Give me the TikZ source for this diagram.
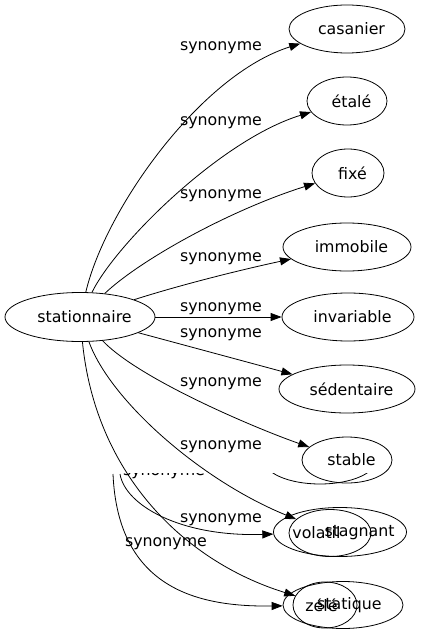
\documentclass[tikz,border=0pt]{standalone}
\usepackage{fontspec}
\setmainfont{DejaVu Sans}
\usetikzlibrary{
    arrows.meta,
    shapes.geometric
}
\tikzset{
    word/.style={ellipse, draw, inner sep=0pt, minimum height=48bp},
    wtext/.style={label={[xshift=4.5bp]center:#1}},
    syn/.style={-{Triangle[length=11bp,width=8bp]}},
    rel/.style={inner sep=0pt}
}

\begin{document}
\begin{tikzpicture}[x=1bp, y=-1bp, line width=0.8bp,
    font=\fontsize{15.8bp}{19bp}\selectfont]
    % Page frame
    \fill[white] (0,0) rectangle (421,635);
    \useasboundingbox (0,0) rectangle (421,635);

    % Draw the word nodes
    \node[word, minimum width=150bp, minimum height=49bp, wtext=stationnaire] (st) at (80,317) {};
    \node[word, minimum width=116bp, wtext=casanier] (casanier) at (347,29) {};
    \node[word, minimum width=80bp, wtext=étalé] (etale) at (347,101) {};
    \node[word, minimum width=72bp, wtext=fixé] (fixe) at (348,173) {};
    \node[word, minimum width=128bp, wtext=immobile] (immobile) at (347,247) {};
    \node[word, minimum width=132bp, wtext=invariable] (invariable) at (348,317) {};
    \node[word, minimum width=136bp, wtext=sédentaire] (sedentaire) at (347,389) {};
    \node[word, minimum width=90bp, minimum height=46bp, wtext=stable] (stable) at (347,460) {};

    % Overlapping nodes at the bottom
    \node[word, minimum width=133bp, minimum height=49bp] (stagnant) at (340,532) {};
    \node[word, minimum width=82bp, minimum height=47bp] (vol) at (330,533) {};
    \node[rel, anchor=east] (tstag) at (395,533) {stagnant};
    \node[rel, anchor=west] (tvol) at (292,533) {volatil};
    \node[word, minimum width=120bp, minimum height=47bp] (statique) at (343,605) {};
    \node[word, minimum width=64bp, minimum height=46bp] (zele) at (325,605) {};
    \node[rel, anchor=east] (tstat) at (382,605) {statique};
    \node[rel, anchor=west] (tzele) at (305,605) {zélé};

    % Cut off part of the hidden layer
    \begin{scope}
        \clip (0,473.5) rectangle (421,500);
        \node[word, minimum width=112bp] (hid) at (320,460) {};
        \node[rel] (lcut) at (164,472.8) {synonyme};
    \end{scope}

    % Draw the edges
    \draw[syn] (st) .. controls (105,210) and (200,75) .. (casanier);
    \draw[syn] (st) .. controls (115,245) and (220,140) .. (etale);
    \draw[syn] (st) .. controls (140,260) and (230,210) .. (fixe);
    \draw[syn] (st) .. controls (180,285) and (240,270) .. (immobile);
    \draw[syn] (st) -- (invariable);
    \draw[syn] (st) -- (sedentaire);
    \draw[syn] (st) .. controls (140,380) and (260,430) .. (stable);
    \draw[syn] (st) .. controls (110,400) and (200,480) .. (vol);
    \draw[syn] (st) .. controls (95,470) and (180,560) .. (zele);

    % Edges of the hidden layer
    \coordinate (cutA) at (120,474);
    \coordinate (cutB) at (113,474);
    \draw[syn] (cutA) .. controls (125,505) and (180,537) .. (stagnant);
    \draw[syn] (cutB) .. controls (118,590) and (200,607) .. (statique);

    % Add edge labels
    \node[rel] (l1) at (221,48) {synonyme};
    \node[rel] (l2) at (221,123) {synonyme};
    \node[rel] (l3) at (221,196) {synonyme};
    \node[rel] (l4) at (221,259) {synonyme};
    \node[rel] (l5) at (221,309) {synonyme};
    \node[rel] (l6) at (221,335) {synonyme};
    \node[rel] (l7) at (221,384) {synonyme};
    \node[rel] (l8) at (221,447) {synonyme};
    \node[rel] (l9) at (221,520) {synonyme};
    \node[rel] (l10) at (166,544) {synonyme};
\end{tikzpicture}
\end{document}
